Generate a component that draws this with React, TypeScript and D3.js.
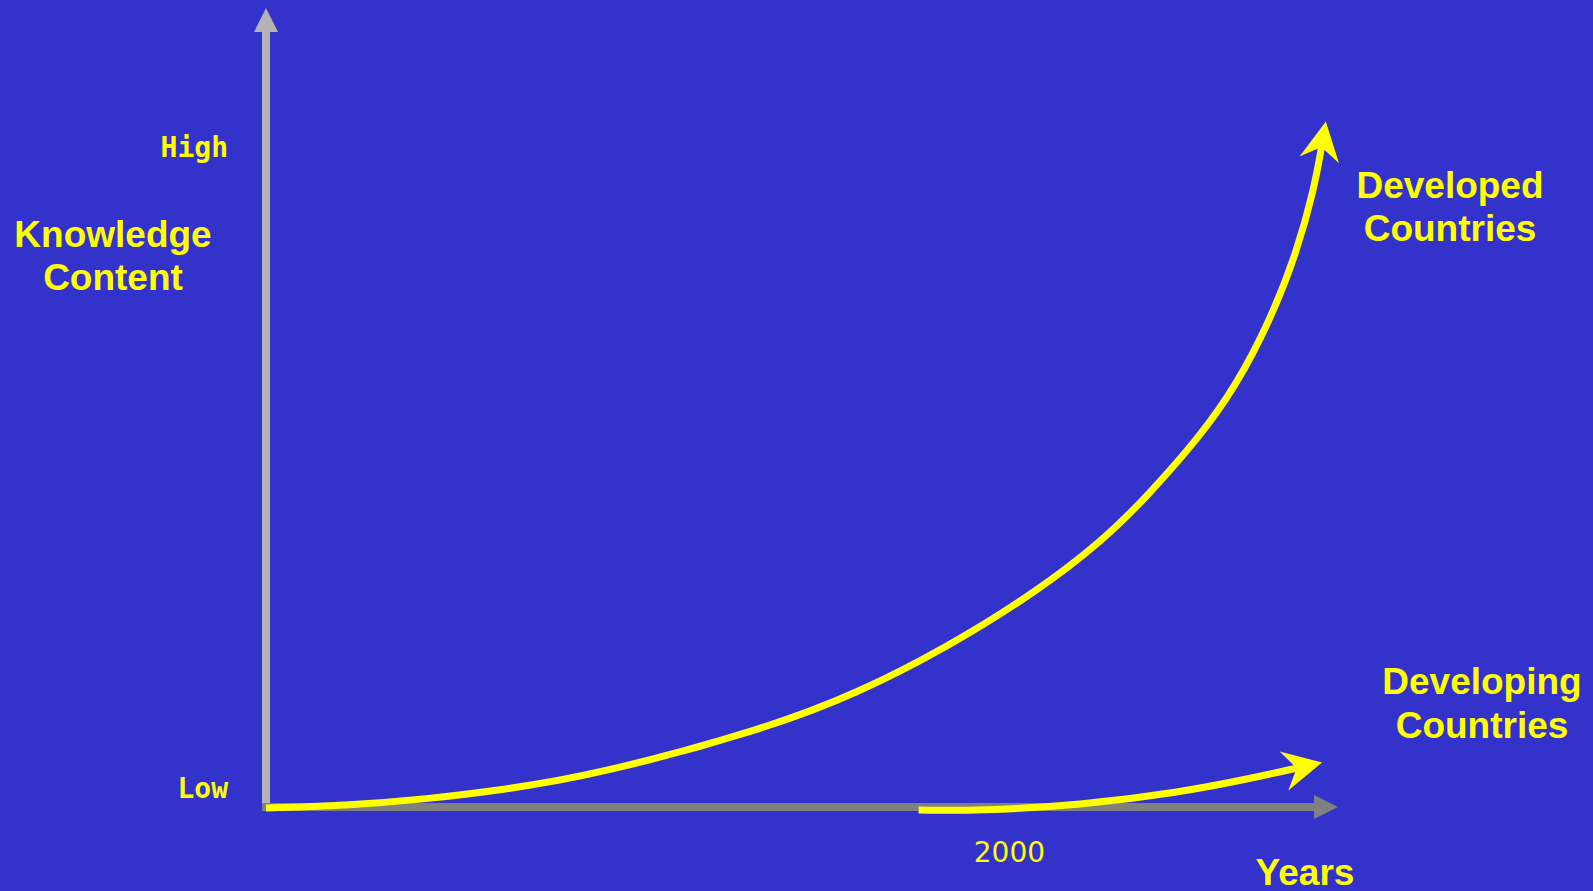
import React from "react";
import * as d3 from "d3";

// Normalized data: t = time (0..1 across x-axis), k = knowledge content (0 = Low .. 1 = High)
const developedT = [0, 0.08, 0.152, 0.222, 0.31, 0.475, 0.56, 0.644, 0.729, 0.793, 0.834, 0.884, 0.918, 0.951, 0.976, 0.993, 0.9995];
const developedK = [0, 0.004, 0.013, 0.026, 0.047, 0.116, 0.167, 0.233, 0.314, 0.39, 0.453, 0.54, 0.613, 0.71, 0.808, 0.904, 0.962];
const developingT = [0.618, 0.676, 0.771, 0.866, 0.929, 0.976];
const developingK = [-0.003, -0.004, 0.004, 0.023, 0.042, 0.058];
const yTickLabels = ["Low", "High"];
const yTickValues = [0.029, 0.962];
const xTickLabel = "2000";
const xTickValue = 0.704;
const seriesLabels = [["Developed", "Countries"], ["Developing", "Countries"]];

const W = 1593;
const H = 891;
const BG = "#3333cc";
const YEL = "#ffff00";

export default function App() {
  const x = d3.scaleLinear().domain([0, 1]).range([266, 1322]);
  const y = d3.scaleLinear().domain([0, 1]).range([808, 121]);

  const line = d3
    .line<[number, number]>()
    .x((d) => x(d[0]))
    .y((d) => y(d[1]))
    .curve(d3.curveBasis);

  const devPts: [number, number][] = developedT.map((t, i) => [t, developedK[i]]);
  const dvgPts: [number, number][] = developingT.map((t, i) => [t, developingK[i]]);

  const axisY = 807;
  const axisX = 266;
  const bold = {
    fontFamily: "'Liberation Sans', Arial, sans-serif",
    fontWeight: "bold" as const,
    fontSize: 37,
    fill: YEL,
  };

  return (
    <svg
      width={W}
      height={H}
      style={{ position: "absolute", left: 0, top: 0, display: "block" }}
    >
      <defs>
        <marker
          id="arrowY"
          markerUnits="userSpaceOnUse"
          viewBox="-14 -21 41 42"
          refX={0}
          refY={0}
          markerWidth={41}
          markerHeight={42}
          orient="auto"
        >
          <path d="M26,0 L-13,-20 L0,0 L-13,20 Z" fill={YEL} />
        </marker>
      </defs>
      <rect x={0} y={0} width={W} height={H} fill={BG} />

      {/* vertical axis */}
      <line x1={axisX} x2={axisX} y1={axisY + 4} y2={31} stroke="#b3b3b3" strokeWidth={8} />
      <path d={`M${axisX - 12},32 L${axisX},8 L${axisX + 12},32 Z`} fill="#b3b3b3" />

      {/* horizontal axis */}
      <line x1={axisX - 4} x2={1315} y1={axisY} y2={axisY} stroke="#808080" strokeWidth={8} />
      <path d={`M1314,${axisY - 12} L1338,${axisY} L1314,${axisY + 12} Z`} fill="#808080" />

      {/* curves */}
      <path
        d={line(devPts) || ""}
        fill="none"
        stroke={YEL}
        strokeWidth={7}
        markerEnd="url(#arrowY)"
      />
      <path
        d={line(dvgPts) || ""}
        fill="none"
        stroke={YEL}
        strokeWidth={7}
        markerEnd="url(#arrowY)"
      />

      {/* y tick labels */}
      {yTickLabels.map((lab, i) => (
        <text
          key={lab}
          x={228}
          y={y(yTickValues[i]) + 10}
          textAnchor="end"
          fill={YEL}
          fontFamily="'DejaVu Sans Mono', monospace"
          fontWeight={600}
          fontSize={28}
        >
          {lab}
        </text>
      ))}

      {/* x tick label */}
      <text
        x={x(xTickValue)}
        y={862}
        textAnchor="middle"
        fill={YEL}
        fontFamily="'DejaVu Sans', sans-serif"
        fontSize={28}
      >
        {xTickLabel}
      </text>

      {/* axis titles */}
      <text textAnchor="middle" {...bold}>
        <tspan x={113} y={247}>Knowledge</tspan>
        <tspan x={113} y={290}>Content</tspan>
      </text>
      <text x={1305} y={885} textAnchor="middle" {...bold}>
        Years
      </text>

      {/* series labels */}
      <text textAnchor="middle" {...bold}>
        <tspan x={1450} y={198}>{seriesLabels[0][0]}</tspan>
        <tspan x={1450} y={241}>{seriesLabels[0][1]}</tspan>
      </text>
      <text textAnchor="middle" {...bold}>
        <tspan x={1482} y={694}>{seriesLabels[1][0]}</tspan>
        <tspan x={1482} y={738}>{seriesLabels[1][1]}</tspan>
      </text>
    </svg>
  );
}
